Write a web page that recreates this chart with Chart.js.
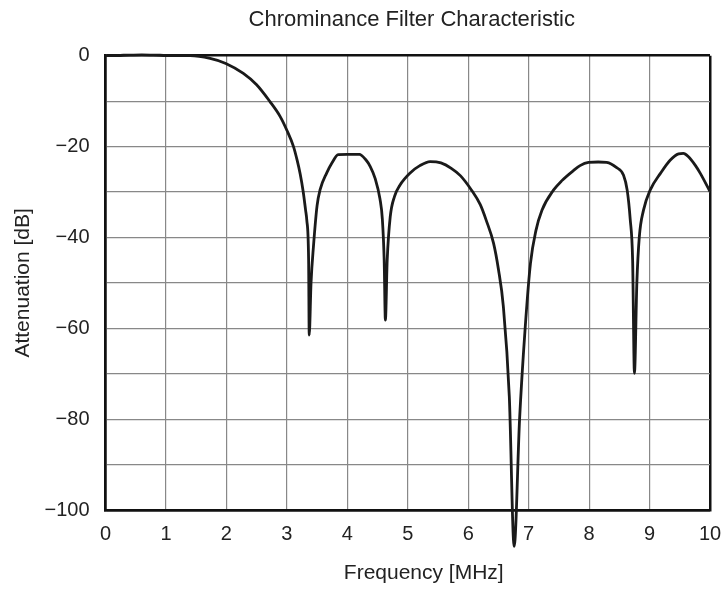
<!DOCTYPE html>
<html>
<head>
<meta charset="utf-8">
<script src="https://cdn.jsdelivr.net/npm/chart.js@4.4.0/dist/chart.umd.min.js"></script>
<style>
  html, body { margin: 0; padding: 0; background: #fff; }
  #wrap { width: 725px; height: 589px; }
</style>
</head>
<body>
<div id="wrap"><canvas id="filterChart"></canvas></div>
<script>
// frequency in MHz, attenuation in dB
const freq = [0, 0.3, 0.6, 0.9, 1.2, 1.4, 1.73, 1.99, 2.28, 2.5, 2.72, 2.89, 3.0, 3.11, 3.17, 3.22, 3.27, 3.31, 3.33, 3.36, 3.37,
  3.40, 3.44, 3.50, 3.55, 3.66, 3.75, 3.85, 4.0, 4.2, 4.3, 4.38, 4.46, 4.54, 4.58, 4.61, 4.63,
  4.66, 4.71, 4.78, 4.87, 5.04, 5.2, 5.37, 5.55, 5.72, 5.87, 6.05, 6.2, 6.3, 6.42, 6.5, 6.58, 6.68, 6.76,
  6.85, 6.94, 7.03, 7.12, 7.22, 7.41, 7.55, 7.74, 7.85, 7.99, 8.15, 8.29, 8.45, 8.57, 8.63, 8.68, 8.72, 8.75,
  8.79, 8.83, 8.90, 9.01, 9.18, 9.34, 9.48, 9.56, 9.64, 9.76, 9.84, 10];
const atten = [0, 0.1, 0.2, 0.1, 0, 0, -0.6, -1.7, -3.9, -6.4, -10.1, -13.4, -16.4, -20, -23, -26, -29.9, -34, -36.2, -45, -61.5,
  -50, -42, -33, -29.5, -25.8, -23.5, -21.8, -21.7, -21.7, -22.8, -24.4, -27, -31.5, -36, -45, -58.2,
  -45, -35.5, -31, -28.5, -25.8, -24.2, -23.3, -23.6, -24.8, -26.4, -29.5, -32.8, -36.3, -41.3, -47, -55, -75, -108,
  -80, -60.4, -45.7, -38.5, -34, -29.6, -27.5, -25.3, -24.2, -23.5, -23.4, -23.5, -24.6, -26.3, -29.6, -36, -45, -69.9,
  -50, -40, -34, -29.6, -25.9, -23, -21.6, -21.5, -22.2, -24.2, -25.9, -29.9];

const xTicks = [0, 1, 2, 3, 4, 5, 6, 7, 8, 9, 10];
const yLabelled = [0, -20, -40, -60, -80, -100];
const chartTitle = 'Chrominance Filter Characteristic';
const xTitle = 'Frequency [MHz]';

const pts = freq.map(function(f, i){ return {x: f, y: atten[i]}; });

const edge = function(v, lo, hi){ return v === lo || v === hi; };

// title and x-axis title are centred a bit differently from Chart.js defaults
const textPlugin = {
  id: 'texts',
  afterDraw: function(chart){
    const c = chart.ctx, a = chart.chartArea;
    c.save();
    c.fillStyle = '#222';
    c.textAlign = 'center';
    c.textBaseline = 'middle';
    c.font = '22px "Liberation Sans"';
    c.fillText(chartTitle, (a.left + a.right) / 2 + 4, 20);
    c.font = '21px "Liberation Sans"';
    c.fillText(xTitle, (a.left + a.right) / 2 + 16, 573);
    c.restore();
  }
};

new Chart(document.getElementById('filterChart'), {
  type: 'line',
  data: {
    datasets: [{
      data: pts,
      borderColor: '#1a1a1a',
      borderWidth: 2.8,
      pointRadius: 0,
      cubicInterpolationMode: 'monotone',
      clip: false
    }]
  },
  plugins: [textPlugin],
  options: {
    responsive: true,
    maintainAspectRatio: false,
    animation: false,
    layout: { padding: { left: 0, right: 15, top: 55.7, bottom: 0 } },
    plugins: {
      legend: { display: false },
      tooltip: { enabled: false }
    },
    scales: {
      x: {
        type: 'linear',
        min: 0, max: 10,
        afterFit: function(s){ s.height = 79; s.paddingRight = 0; s.paddingLeft = 0; },
        afterBuildTicks: function(s){ s.ticks = xTicks.map(function(v){ return {value: v}; }); },
        grid: {
          drawTicks: false,
          color: function(c){ return edge(c.tick.value, 0, 10) ? '#111' : '#888'; },
          lineWidth: function(c){ return edge(c.tick.value, 0, 10) ? 2.5 : 1.2; }
        },
        border: { color: '#111', width: 2.5 },
        ticks: {
          color: '#222',
          padding: 12,
          font: { family: 'Liberation Sans', size: 20 },
          maxRotation: 0
        }
      },
      y: {
        min: -100, max: 0,
        afterFit: function(s){ s.width = 105.5; },
        grid: {
          drawTicks: false,
          color: function(c){ return edge(c.tick.value, -100, 0) ? '#111' : '#888'; },
          lineWidth: function(c){ return edge(c.tick.value, -100, 0) ? 2.5 : 1.2; }
        },
        border: { color: '#111', width: 2.5 },
        ticks: {
          stepSize: 10,
          color: '#222',
          padding: 16,
          font: { family: 'Liberation Sans', size: 20 },
          callback: function(v){
            if (yLabelled.indexOf(v) < 0) return '';
            return v < 0 ? '\u2212' + Math.abs(v) : String(v);
          }
        },
        title: {
          display: true,
          text: 'Attenuation [dB]',
          color: '#222',
          font: { family: 'Liberation Sans', size: 21 },
          padding: { top: 11, bottom: 0 }
        }
      }
    }
  }
});
</script>
</body>
</html>
